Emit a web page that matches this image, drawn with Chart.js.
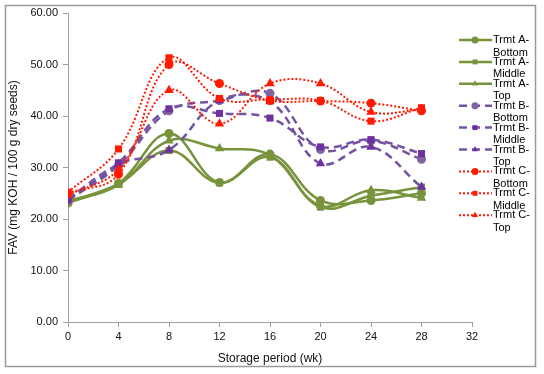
<!DOCTYPE html>
<html lang="en">
<head>
<meta charset="UTF-8">
<title>FAV vs storage period</title>
<script src="https://cdn.jsdelivr.net/npm/chart.js"></script>
<style>
  html, body { margin: 0; padding: 0; background: #fff; }
  #wrap { width: 544px; height: 374px; position: relative; }
</style>
</head>
<body>
<div id="wrap"><canvas id="chart"></canvas></div>
<script>
// Storage period (weeks)
const weeks = [0, 4, 8, 12, 16, 20, 24, 28];

// FAV values
const aBottom = [23.1, 26.9, 36.6, 27.1, 32.6, 23.6, 23.6, 25.0];
const aMiddle = [23.3, 26.8, 33.3, 27.0, 32.0, 22.3, 24.5, 26.2];
const aTop    = [23.5, 26.6, 35.2, 33.7, 32.4, 22.6, 25.6, 24.1];
const bBottom = [23.6, 30.4, 41.0, 43.0, 44.4, 33.5, 35.2, 31.6];
const bMiddle = [23.7, 30.9, 41.4, 40.5, 39.6, 34.0, 35.4, 32.7];
const bTop    = [23.9, 30.6, 33.4, 43.0, 42.8, 30.8, 34.0, 26.2];
const cBottom = [25.0, 28.7, 50.0, 46.3, 43.0, 42.9, 42.5, 41.0];
const cMiddle = [25.2, 33.6, 51.3, 43.4, 43.2, 43.0, 39.0, 41.6];
const cTop    = [24.6, 29.6, 45.0, 38.5, 46.3, 46.3, 40.8, 41.3];

const seriesLabels = [
  'Trmt A-Bottom', 'Trmt A-Middle', 'Trmt A-Top',
  'Trmt B-Bottom', 'Trmt B-Middle', 'Trmt B-Top',
  'Trmt C-Bottom', 'Trmt C-Middle', 'Trmt C-Top'
];
const seriesValues = [aBottom, aMiddle, aTop, bBottom, bMiddle, bTop, cBottom, cMiddle, cTop];

// Year-group styles: green solid, purple dashed, red dotted
const green = '#77933c';
const purple = '#7353a2';
const red = '#ff1a00';
const lineColors = [green, green, green, purple, purple, purple, red, red, red];
const markerColors = [green, green, green, '#8064a2', '#7030a0', '#7030a0', red, red, red];
const dashes = [[], [], [], [8, 5], [8, 5], [8, 5], [2, 2], [2, 2], [2, 2]];
const widths = [2.5, 2.5, 2.5, 2.5, 2.5, 2.5, 2, 2, 2];
const shapes = ['circle', 'rect', 'triangle'];
const radii = { circle: 4.5, rect: 5, triangle: 5.5 };

const datasets = seriesLabels.map((label, i) => {
  const shape = shapes[i % 3];
  return {
    label: label,
    data: weeks.map((w, j) => ({ x: w, y: seriesValues[i][j] })),
    borderColor: lineColors[i],
    backgroundColor: markerColors[i],
    borderWidth: widths[i],
    borderDash: dashes[i],
    tension: 0.4,
    pointStyle: shape,
    pointRadius: radii[shape],
    pointBorderWidth: 0,
    pointBackgroundColor: markerColors[i],
    pointBorderColor: markerColors[i],
    order: seriesLabels.length - i
  };
});

// outer frame + legend drawn on the canvas
const framePlugin = {
  id: 'frame',
  afterDraw(chart) {
    const ctx = chart.ctx;
    ctx.save();
    ctx.strokeStyle = '#9a9a9a';
    ctx.lineWidth = 1.5;
    ctx.strokeRect(5.5, 5.5, 530, 361);

    const x0 = 459, x1 = 492, xm = 475;
    chart.data.datasets.forEach((ds, i) => {
      const y = 40 + i * 21.9;
      ctx.save();
      ctx.strokeStyle = ds.borderColor;
      ctx.lineWidth = ds.borderWidth;
      ctx.setLineDash(ds.borderDash);
      ctx.beginPath();
      ctx.moveTo(x0, y);
      ctx.lineTo(x1, y);
      ctx.stroke();
      ctx.restore();
      ctx.fillStyle = ds.pointBackgroundColor;
      ctx.strokeStyle = ds.pointBackgroundColor;
      Chart.helpers.drawPoint(ctx, {
        pointStyle: ds.pointStyle, radius: 3.5, rotation: 0, borderWidth: 0
      }, xm, y);
      const dash = ds.label.indexOf('-') + 1;
      ctx.fillStyle = '#000';
      ctx.font = '11px "Liberation Sans", Arial, sans-serif';
      ctx.textAlign = 'left';
      ctx.textBaseline = 'middle';
      ctx.fillText(ds.label.slice(0, dash), 493, y);
      ctx.fillText(ds.label.slice(dash), 493, y + 12.5);
    });
    ctx.restore();
  }
};

const axisGray = '#a0a0a0';
const tickFont = { family: '"Liberation Sans", Arial, sans-serif', size: 11 };
const titleFont = { family: '"Liberation Sans", Arial, sans-serif', size: 12 };

new Chart(document.getElementById('chart'), {
  type: 'line',
  data: { datasets: datasets },
  plugins: [framePlugin],
  options: {
    responsive: true,
    maintainAspectRatio: false,
    animation: false,
    layout: { padding: { left: 6, top: 13, right: 72, bottom: 8 } },
    plugins: {
      legend: { display: false },
      tooltip: { enabled: false }
    },
    scales: {
      x: {
        type: 'linear',
        min: 0,
        max: 32,
        afterFit(scale) { scale.height = 44; },
        ticks: { stepSize: 4, color: '#111', font: tickFont, padding: 3, maxRotation: 0 },
        grid: { drawOnChartArea: false, drawTicks: true, tickLength: 5, color: axisGray },
        border: { color: axisGray, width: 1 },
        title: { display: true, text: 'Storage period (wk)', color: '#111', font: titleFont, padding: 0 }
      },
      y: {
        min: 0,
        max: 60,
        afterFit(scale) { scale.width = 62; },
        ticks: {
          stepSize: 10, color: '#111', font: tickFont, padding: 5,
          callback: v => v.toFixed(2)
        },
        grid: { drawOnChartArea: false, drawTicks: true, tickLength: 5, color: axisGray },
        border: { color: axisGray, width: 1 },
        title: { display: true, text: 'FAV (mg KOH / 100 g dry seeds)', color: '#111', font: titleFont, padding: 0 }
      }
    }
  }
});
</script>
</body>
</html>
